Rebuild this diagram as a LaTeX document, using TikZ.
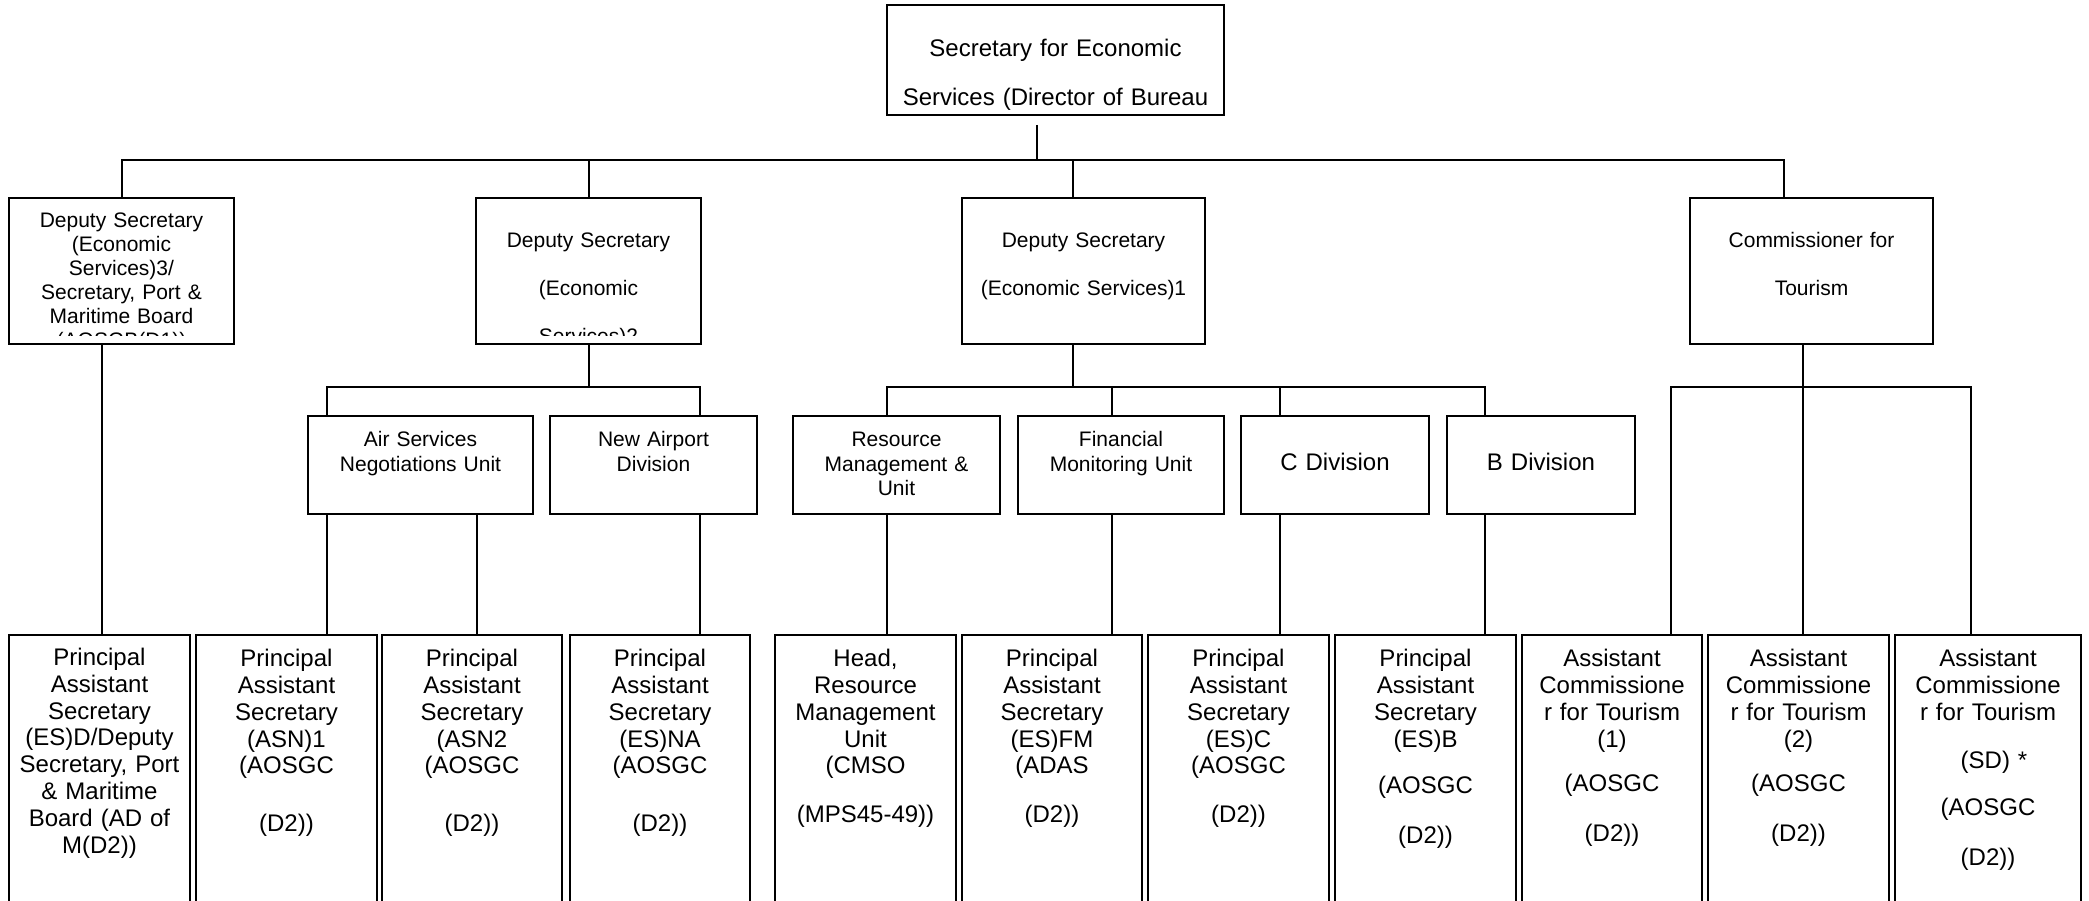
\documentclass[tikz,border=0pt]{standalone}
\usepackage{fontspec}
\setmainfont{Liberation Sans}
\newcommand\mkbox[5]{\node[box, minimum width={(#4)-(#2)}, minimum height={(#5)-(#3)}] (#1) at ({((#2)+(#4))/2},{((#3)+(#5))/2}) {};}
\tikzset{
  box/.style={draw=black, line width=1.8pt, inner sep=0pt, outer sep=0pt},
  conn/.style={draw=black, line width=1.3pt},
  txtbase/.style={align=center, text width=420pt, inner sep=0pt, outer sep=0pt, anchor=base},
  tbig/.style={txtbase, font=\fontsize{24}{26.8}\selectfont},
  ttop/.style={txtbase, font=\fontsize{24}{49}\selectfont},
  tmid/.style={txtbase, font=\fontsize{21}{24}\selectfont},
  twide/.style={txtbase, font=\fontsize{21}{48}\selectfont},
  tunit/.style={txtbase, font=\fontsize{21}{24.5}\selectfont},
}
\begin{document}
\begin{tikzpicture}[x=1pt,y=-1pt]
\useasboundingbox (0,0) rectangle (2089,901);
\fill[white] (0,0) rectangle (2089,901);
\clip (0,0) rectangle (2089,901);

% ---------- boxes ----------
\mkbox{T}{887}{5}{1224}{115}
\mkbox{D1}{9}{198}{234}{344}
\mkbox{D2}{476}{198}{701}{344}
\mkbox{D3}{962}{198}{1205}{344}
\mkbox{D4}{1690}{198}{1933}{344}
\mkbox{AS}{308}{416}{533}{514}
\mkbox{NA}{550}{416}{757}{514}
\mkbox{RM}{793}{416}{1000}{514}
\mkbox{FM}{1018}{416}{1224}{514}
\mkbox{CD}{1241}{416}{1429}{514}
\mkbox{BD}{1447}{416}{1635}{514}
\mkbox{PA}{9}{635}{190}{915}
\mkbox{PB}{196}{635}{377}{915}
\mkbox{PC}{382}{635}{562}{915}
\mkbox{PD}{570}{635}{750}{915}
\mkbox{PE}{775}{635}{956}{915}
\mkbox{PF}{962}{635}{1142}{915}
\mkbox{PG}{1148}{635}{1329}{915}
\mkbox{PH}{1335}{635}{1516}{915}
\mkbox{PI}{1522}{635}{1702}{915}
\mkbox{PJ}{1708}{635}{1889}{915}
\mkbox{PK}{1895}{635}{2081}{915}

% ---------- junction coordinates ----------
\coordinate (j0) at (1037,160);
\coordinate (d1) at (122,160);
\coordinate (d2) at (589,160);
\coordinate (d3) at (1073,160);
\coordinate (d4) at (1784,160);
\coordinate (e1) at (102,500);
\coordinate (b2) at (589,387);
\coordinate (b2l) at (327,387);
\coordinate (b2m) at (477,387);
\coordinate (b2r) at (700,387);
\coordinate (b3) at (1073,387);
\coordinate (b3a) at (887,387);
\coordinate (b3b) at (1112,387);
\coordinate (b3c) at (1280,387);
\coordinate (b3d) at (1485,387);
\coordinate (b4) at (1803,387);
\coordinate (b4a) at (1671,387);
\coordinate (b4c) at (1971,387);

% ---------- connectors ----------
\draw[conn] (T.south -| j0) ++(0,10) -- (j0);
\draw[conn] (d1 |- D1.north) -- (d1) -- (d4) -- (d4 |- D4.north);
\draw[conn] (d2) -- (d2 |- D2.north);
\draw[conn] (d3) -- (d3 |- D3.north);

\draw[conn] (D1.south -| e1) -- (e1 |- PA.north);

\draw[conn] (D2.south -| b2) -- (b2);
\draw[conn] (b2l |- AS.north) -- (b2l) -- (b2r) -- (b2r |- NA.north);
\draw[conn] (AS.south -| b2l) -- (b2l |- PB.north);
\draw[conn] (AS.south -| b2m) -- (b2m |- PC.north);
\draw[conn] (NA.south -| b2r) -- (b2r |- PD.north);

\draw[conn] (D3.south -| b3) -- (b3);
\draw[conn] (b3a |- RM.north) -- (b3a) -- (b3d) -- (b3d |- BD.north);
\draw[conn] (b3b) -- (b3b |- FM.north);
\draw[conn] (b3c) -- (b3c |- CD.north);
\draw[conn] (RM.south -| b3a) -- (b3a |- PE.north);
\draw[conn] (FM.south -| b3b) -- (b3b |- PF.north);
\draw[conn] (CD.south -| b3c) -- (b3c |- PG.north);
\draw[conn] (BD.south -| b3d) -- (b3d |- PH.north);

\draw[conn] (D4.south -| b4) -- (b4);
\draw[conn] (b4a |- PI.north) -- (b4a) -- (b4c) -- (b4c |- PK.north);
\draw[conn] (b4) -- (b4 |- PJ.north);

% ---------- texts ----------
\node[ttop] (tT) at (1055.5,57) {Secretary for Economic\\Services (Director of Bureau};

\begin{scope}
\clip (9,198) rectangle (234,336);
\node[tmid] (tD1) at (121.5,227.5) {Deputy Secretary\\(Economic\\Services)3/\\Secretary, Port \&\\Maritime Board\\(AOSGB(D1))};
\end{scope}
\begin{scope}
\clip (476,198) rectangle (701,336);
\node[twide] (tD2) at (588.5,248) {Deputy Secretary\\(Economic\\Services)2};
\end{scope}
\node[twide] (tD3) at (1083.5,248) {Deputy Secretary\\(Economic Services)1};
\node[twide] (tD4) at (1811.5,248) {Commissioner for\\Tourism};

\node[tunit] (tAS) at (420.5,446.5) {Air Services\\Negotiations Unit};
\node[tunit] (tNA) at (653.5,446.5) {New Airport\\Division};
\node[tunit] (tRM) at (896.5,446.5) {Resource\\Management \&\\Unit};
\node[tunit] (tFM) at (1121,446.5) {Financial\\Monitoring Unit};
\node[tbig] (tCD) at (1335,470.5) {C Division};
\node[tbig] (tBD) at (1541,470.5) {B Division};

\node[tbig] (tPA) at (99.5,665.5) {Principal\\Assistant\\Secretary\\(ES)D/Deputy\\Secretary, Port\\\& Maritime\\Board (AD of\\M(D2))};
\node[tbig] (tPB) at (286.5,666.7) {Principal\\Assistant\\Secretary\\(ASN)1\\(AOSGC\\[30.3pt](D2))};
\node[tbig] (tPC) at (472,666.7) {Principal\\Assistant\\Secretary\\(ASN2\\(AOSGC\\[30.3pt](D2))};
\node[tbig] (tPD) at (660,666.7) {Principal\\Assistant\\Secretary\\(ES)NA\\(AOSGC\\[30.3pt](D2))};
\node[tbig] (tPE) at (865.5,666.7) {Head,\\Resource\\Management\\Unit\\(CMSO\\[21.3pt](MPS45-49))};
\node[tbig] (tPF) at (1052,666.7) {Principal\\Assistant\\Secretary\\(ES)FM\\(ADAS\\[21.3pt](D2))};
\node[tbig] (tPG) at (1238.5,666.7) {Principal\\Assistant\\Secretary\\(ES)C\\(AOSGC\\[21.3pt](D2))};
\node[tbig] (tPH) at (1425.5,666.7) {Principal\\Assistant\\Secretary\\(ES)B\\[19.4pt](AOSGC\\[23.2pt](D2))};
\node[tbig] (tPI) at (1612,666.7) {Assistant\\Commissione\\r for Tourism\\(1)\\[17.8pt](AOSGC\\[23.2pt](D2))};
\node[tbig] (tPJ) at (1798.5,666.7) {Assistant\\Commissione\\r for Tourism\\(2)\\[17.8pt](AOSGC\\[23.2pt](D2))};
\node[tbig] (tPK) at (1988,666.7) {Assistant\\Commissione\\r for Tourism\\[21.2pt]\hspace*{12pt}(SD) *\\[19.9pt](AOSGC\\[23.2pt](D2))};
\end{tikzpicture}
\end{document}
